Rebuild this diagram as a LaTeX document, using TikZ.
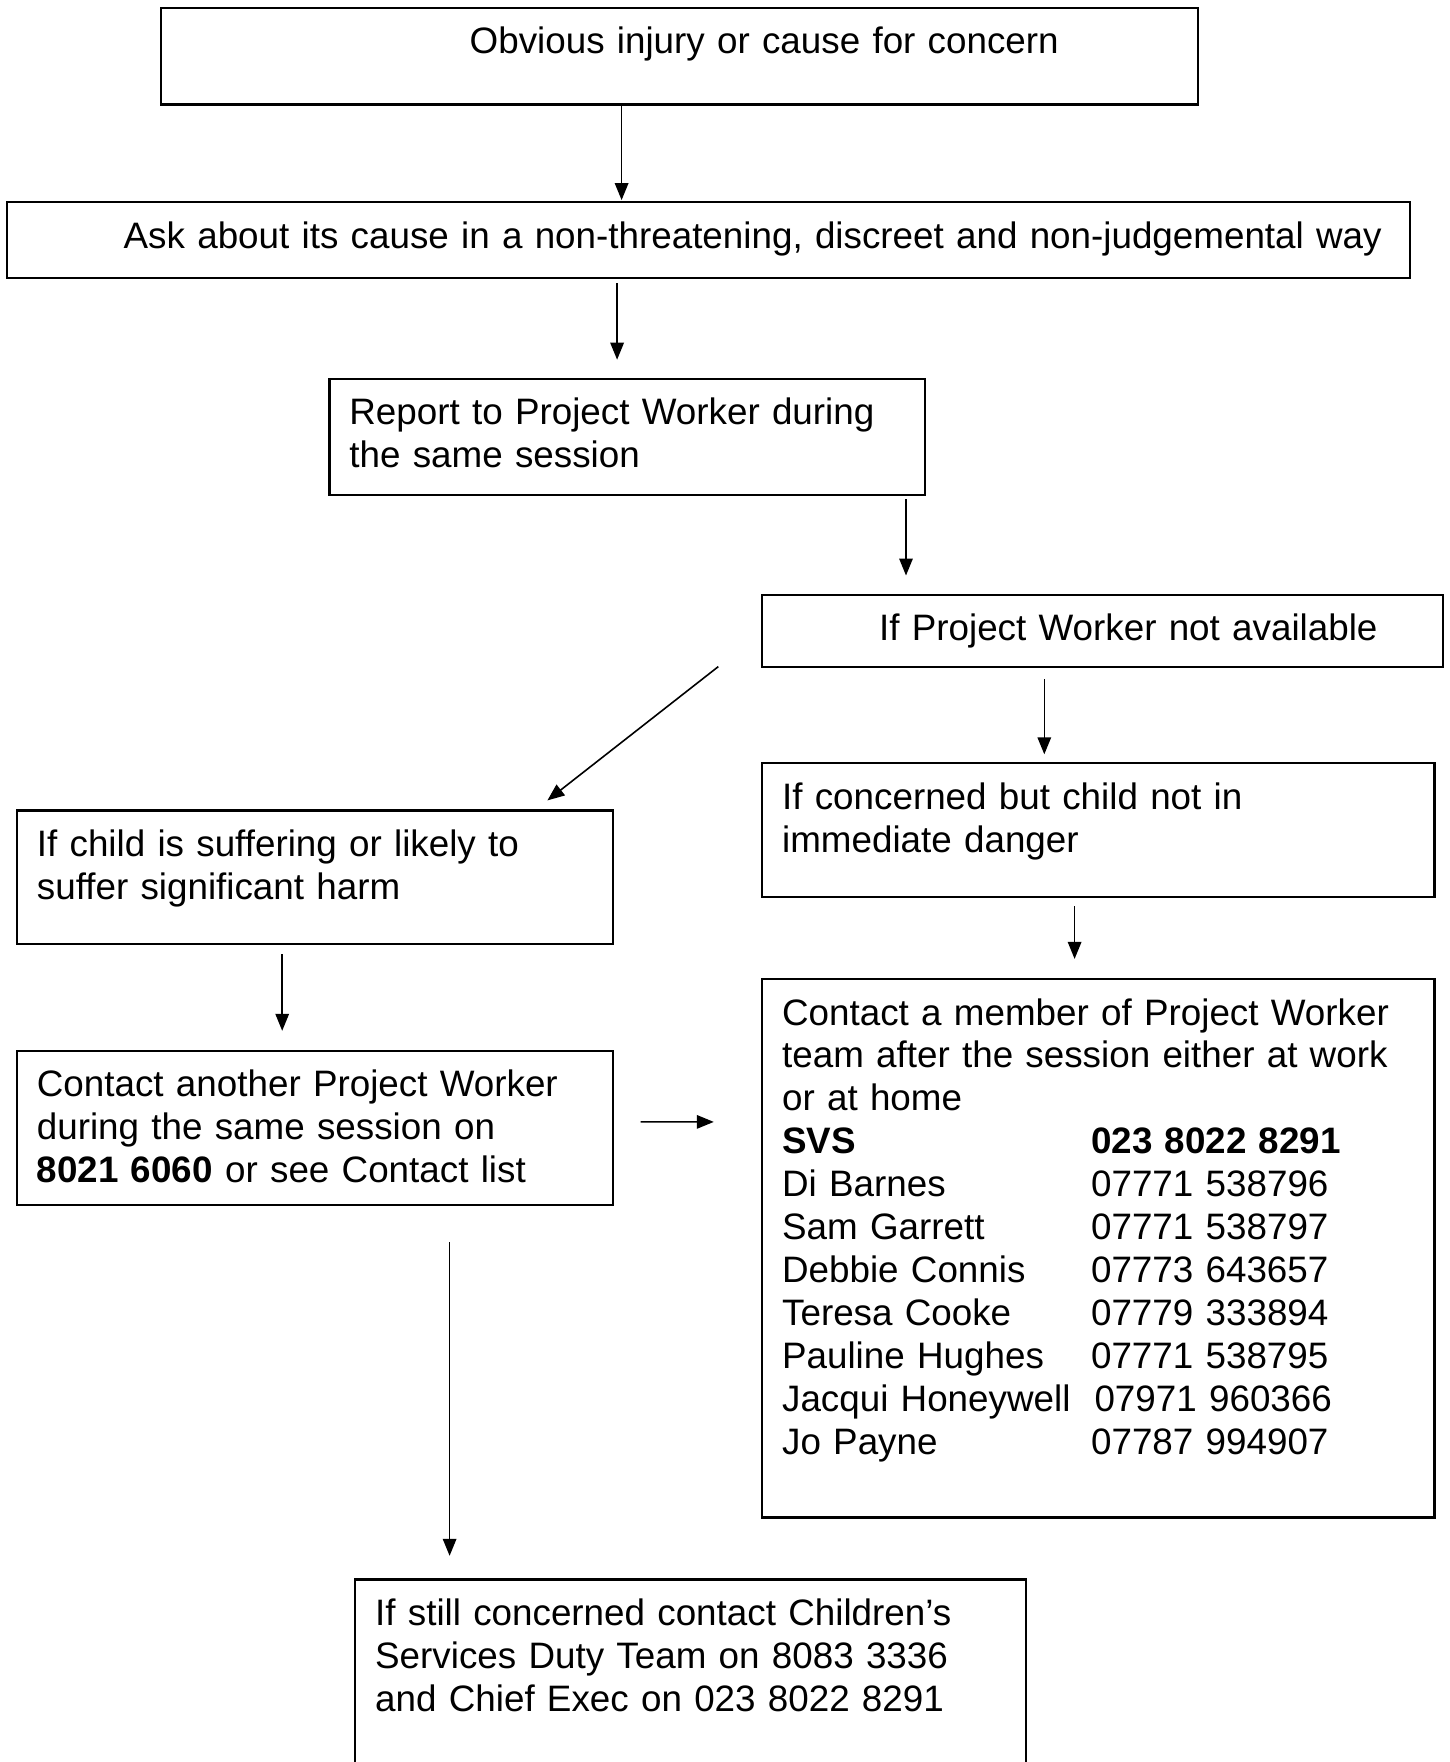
\documentclass[tikz,border=0pt]{standalone}
\usepackage{fontspec}
\setmainfont{Liberation Sans}
\usetikzlibrary{arrows.meta,calc}

\newcommand{\member}[2]{\makebox[309pt][l]{#1}#2}

\begin{document}
\begin{tikzpicture}[x=1pt, y=-1pt,
    box/.style={draw, rectangle, line width=2.2pt, anchor=north west, align=left,
        inner xsep=20pt, inner ysep=0pt, outer sep=0pt, text height=45.9pt,
        font=\fontsize{36.8}{42.9}\selectfont},
    arr/.style={-{Triangle[length=17pt,width=13.5pt]}, line width=1.6pt}]

    \useasboundingbox (0,0) rectangle (1449,1762);

    % Start
    \node [box, text width=997.6pt, text depth=50.7pt] (obvious) at (160.7,7.9) {\hspace*{289pt}Obvious injury or cause for concern};
    \node [box, text width=1362.9pt, text depth=29.5pt] (ask) at (6.7,202.3) {\hspace*{97pt}\mbox{Ask about its cause in a non-threatening, discreet and non-judgemental way}};
    \node [box, text width=555.7pt, text depth=69.9pt] (report) at (329.4,378.8) {Report to Project Worker during\\the same session};

    % Project Worker not available
    \node [box, text width=641.2pt, text depth=26.1pt] (notavail) at (762.1,594.6) {\hspace*{97pt}If Project Worker not available};
    \node [box, text width=632.3pt, text depth=87.8pt] (concerned) at (762.1,763.3) {If concerned but child not in\\immediate danger};
    \node [box, text width=555.7pt, text depth=87.8pt] (harm) at (16.9,810.5) {If child is suffering or likely to\\suffer significant harm};

    % Contacts
    \node [box, text width=555.7pt, text depth=108.1pt] (another) at (16.9,1051) {Contact another Project Worker\\during the same session on\\\textbf{8021 6060} or see Contact list};
    \node [box, text width=632.3pt, text depth=492.5pt] (contact) at (762.1,979.1) {Contact a member of Project Worker\\team after the session either at work\\or at home\\
        \member{\textbf{SVS}}{\textbf{023 8022 8291}}\\
        \member{Di Barnes}{07771 538796}\\
        \member{Sam Garrett}{07771 538797}\\
        \member{Debbie Connis}{07773 643657}\\
        \member{Teresa Cooke}{07779 333894}\\
        \member{Pauline Hughes}{07771 538795}\\
        \makebox[312.5pt][l]{Jacqui Honeywell}07971 960366\\
        \member{Jo Payne}{07787 994907}};

    % Last step
    \node [box, text width=631.1pt, text depth=154.1pt] (still) at (355.2,1579.4) {If still concerned contact Children’s\\Services Duty Team on 8083 3336\\and Chief Exec on 023 8022 8291};

    % Arrows
    \draw [arr] ($(obvious.south west)+(460.9,0)$) -- ($(ask.north west)+(614.9,-2.2)$);
    \draw [arr] ($(ask.south west)+(610.4,5.6)$) -- ($(report.north west)+(287.7,-19.1)$);
    \draw [arr] ($(report.south west)+(576.6,4.5)$) -- ($(notavail.north west)+(143.9,-19.1)$);
    \draw [arr] ($(notavail.south west)+(-43.8,0)$) -- ($(harm.north west)+(530.5,-10.1)$);
    \draw [arr] ($(notavail.south west)+(282.2,12.4)$) -- ($(concerned.north west)+(282.2,-9)$);
    \draw [arr] ($(harm.south west)+(265.3,10.2)$) -- ($(another.north west)+(265.3,-20.2)$);
    \draw [arr] ($(concerned.south west)+(312.5,9)$) -- ($(contact.north west)+(312.5,-20.2)$);
    \draw [arr] ($(another.north east)+(28.1,70.9)$) -- ($(contact.north west)+(-48.3,142.8)$);
    \draw [arr] ($(another.south west)+(432.7,37.1)$) -- ($(still.north west)+(94.4,-23.6)$);

\end{tikzpicture}
\end{document}
